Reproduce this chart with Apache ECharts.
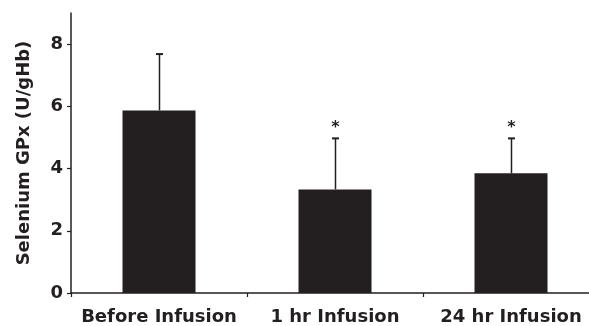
<!DOCTYPE html>
<html><head><meta charset="utf-8">
<script src="https://cdn.jsdelivr.net/npm/echarts@6/dist/echarts.min.js"></script>
<style>html,body{margin:0;padding:0;background:#fff}#c{width:589px;height:326px}</style>
</head><body><div id="c"></div>
<script>
var categories = ['Before Infusion', '1 hr Infusion', '24 hr Infusion'];
var means = [5.87, 3.33, 3.85];
var errorTops = [7.68, 4.97, 4.97];
var significance = ['', '*', '*'];
var yTicks = [0, 2, 4, 6, 8];

var FONT = '"DejaVu Sans", sans-serif';
var INK = '#231f20';
var chart = echarts.init(document.getElementById('c'), null, {renderer: 'canvas'});
chart.setOption({
  animation: false,
  grid: {left: 71, width: 528, top: 13, height: 280, outerBoundsMode: 'none', containLabel: false},
  xAxis: {
    type: 'category', data: categories,
    axisLine: {lineStyle: {color: INK, width: 1.5}},
    axisTick: {show: true, length: 4, lineStyle: {color: INK, width: 1.2}},
    axisLabel: {color: INK, fontFamily: FONT, fontWeight: 'bold', fontSize: 18, margin: 15, interval: 0, hideOverlap: false}
  },
  yAxis: {
    type: 'value', min: 0, max: 9,
    name: 'Selenium GPx (U/gHb)', nameLocation: 'middle', nameGap: 38,
    nameTextStyle: {color: INK, fontFamily: FONT, fontWeight: 'bold', fontSize: 18},
    splitLine: {show: false},
    axisLine: {show: true, lineStyle: {color: INK, width: 1.5}},
    axisTick: {show: true, length: 4, customValues: yTicks, lineStyle: {color: INK, width: 1.2}},
    axisLabel: {color: INK, fontFamily: FONT, fontWeight: 'bold', fontSize: 18, margin: 8, customValues: yTicks}
  },
  series: [
    {type: 'bar', data: means, barWidth: 73, itemStyle: {color: INK}, z: 2},
    {
      type: 'custom', z: 3,
      data: categories.map(function (c, i) { return [i, means[i], errorTops[i], significance[i]]; }),
      renderItem: function (params, api) {
        var base = api.coord([api.value(0), api.value(1)]);
        var top = api.coord([api.value(0), api.value(2)]);
        var x = Math.round(base[0]) + 0.5;
        var children = [
          {type: 'line', shape: {x1: x, y1: base[1], x2: x, y2: top[1]}, style: {stroke: INK, lineWidth: 1.5}},
          {type: 'line', shape: {x1: x - 3.5, y1: top[1], x2: x + 3.5, y2: top[1]}, style: {stroke: INK, lineWidth: 2}}
        ];
        var sig = significance[params.dataIndex];
        if (sig) {
          children.push({type: 'text', style: {text: sig, x: x, y: top[1] - 3, align: 'center', verticalAlign: 'bottom',
            fill: INK, font: 'bold 16px ' + FONT}});
        }
        return {type: 'group', children: children};
      }
    }
  ]
});
</script></body></html>
